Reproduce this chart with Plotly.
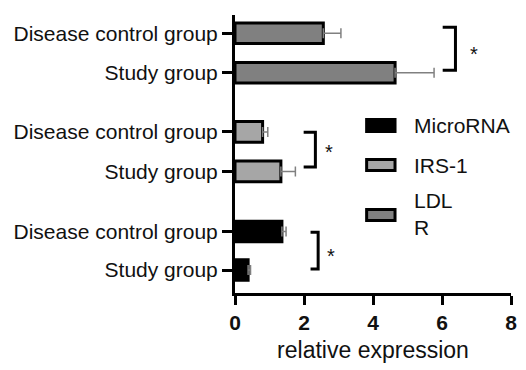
import plotly.graph_objects as go

# ---- data ----
series_names = ["MicroRNA", "IRS-1", "LDL R"]
legend_labels = ["MicroRNA", "IRS-1", "LDL<br>R"]
group_labels = ["Disease control group", "Study group"]
microrna_vals = [1.36, 0.38]
microrna_err = [0.12, 0.07]
irs1_vals = [0.80, 1.33]
irs1_err = [0.15, 0.42]
ldlr_vals = [2.56, 4.64]
ldlr_err = [0.51, 1.13]
x_ticks = [0, 2, 4, 6, 8]

# category positions (top to bottom): LDL R, IRS-1, MicroRNA
pos_ldlr = [0, 1]
pos_irs1 = [2.5, 3.5]
pos_micro = [5.02, 6]

fills = {"MicroRNA": "#000000", "IRS-1": "#a6a6a6", "LDL R": "#808080"}
FONT = "Liberation Sans, Arial, sans-serif"
TXT = "#111111"

fig = go.Figure()
for name, vals, err, pos in [("MicroRNA", microrna_vals, microrna_err, pos_micro),
                             ("IRS-1", irs1_vals, irs1_err, pos_irs1),
                             ("LDL R", ldlr_vals, ldlr_err, pos_ldlr)]:
    fig.add_trace(go.Bar(
        x=vals, y=pos, orientation="h", name=name, width=0.52,
        marker=dict(color=fills[name], line=dict(color="black", width=3)),
        error_x=dict(type="data", array=err, arrayminus=[0]*len(err), symmetric=False,
                     color="#808080", thickness=1.5, width=5),
        showlegend=False,
    ))

tickvals = pos_ldlr + pos_irs1 + pos_micro
ticktext = group_labels * 3

fig.update_layout(
    width=526, height=370,
    margin=dict(l=235, r=9, t=15, b=77),
    plot_bgcolor="white", paper_bgcolor="white",
    font=dict(family=FONT, color=TXT),
    barmode="overlay",
    xaxis=dict(range=[0, 8], tickvals=x_ticks, ticktext=[str(v) for v in x_ticks],
               showgrid=False, zeroline=False, showline=True, linecolor="black",
               linewidth=3, ticks="outside", ticklen=9, tickwidth=3, tickcolor="black",
               tickfont=dict(size=21, family=FONT, color=TXT, weight="bold"),
               title=dict(text="relative expression", font=dict(size=23, family=FONT),
                          standoff=9)),
    yaxis=dict(range=[6.58, -0.46], tickvals=tickvals, ticktext=ticktext,
               showgrid=False, zeroline=False, showline=True, linecolor="black",
               linewidth=3, ticks="outside", ticklen=10, tickwidth=3, tickcolor="black",
               tickfont=dict(size=21, family=FONT, color=TXT)),
)

# significance brackets (data coords)
brackets = [(6.02, 6.39, -0.15, 0.94, 6.92, 0.43),
            (1.99, 2.33, 2.51, 3.39, 2.72, 2.91),
            (2.19, 2.41, 5.04, 5.97, 2.78, 5.54)]
for x0, x1, y0, y1, sx, sy in brackets:
    fig.add_shape(type="path", xref="x", yref="y",
                  path=f"M{x0},{y0} L{x1},{y0} L{x1},{y1} L{x0},{y1}",
                  line=dict(color="black", width=3))
    fig.add_annotation(x=sx, y=sy, xref="x", yref="y", text="*", showarrow=False,
                       font=dict(size=20, family=FONT, color=TXT), yshift=-4)

# legend drawn manually (paper coords)
def px2paper(px, py):
    return (px - 235) / 282, (293 - py) / 278

legend_rows = [(118, 133, 125), (158, 172, 165), (208, 222, 214)]
for name, label, (top, bot, cy) in zip(series_names, legend_labels, legend_rows):
    x0, y0 = px2paper(369.5, bot - 1.5)
    x1, y1 = px2paper(398.5, top + 1.5)
    fig.add_shape(type="rect", xref="paper", yref="paper", x0=x0, x1=x1, y0=y0, y1=y1,
                  fillcolor=fills[name], line=dict(color="black", width=3))
    tx, ty = px2paper(416, cy)
    fig.add_annotation(x=tx, y=ty, xref="paper", yref="paper", text=label,
                       showarrow=False, xanchor="left", yanchor="middle", align="left",
                       font=dict(size=21, family=FONT, color=TXT))

fig.write_html("out.html", config={"displayModeBar": False},
               post_script="document.body.style.margin='0';")
